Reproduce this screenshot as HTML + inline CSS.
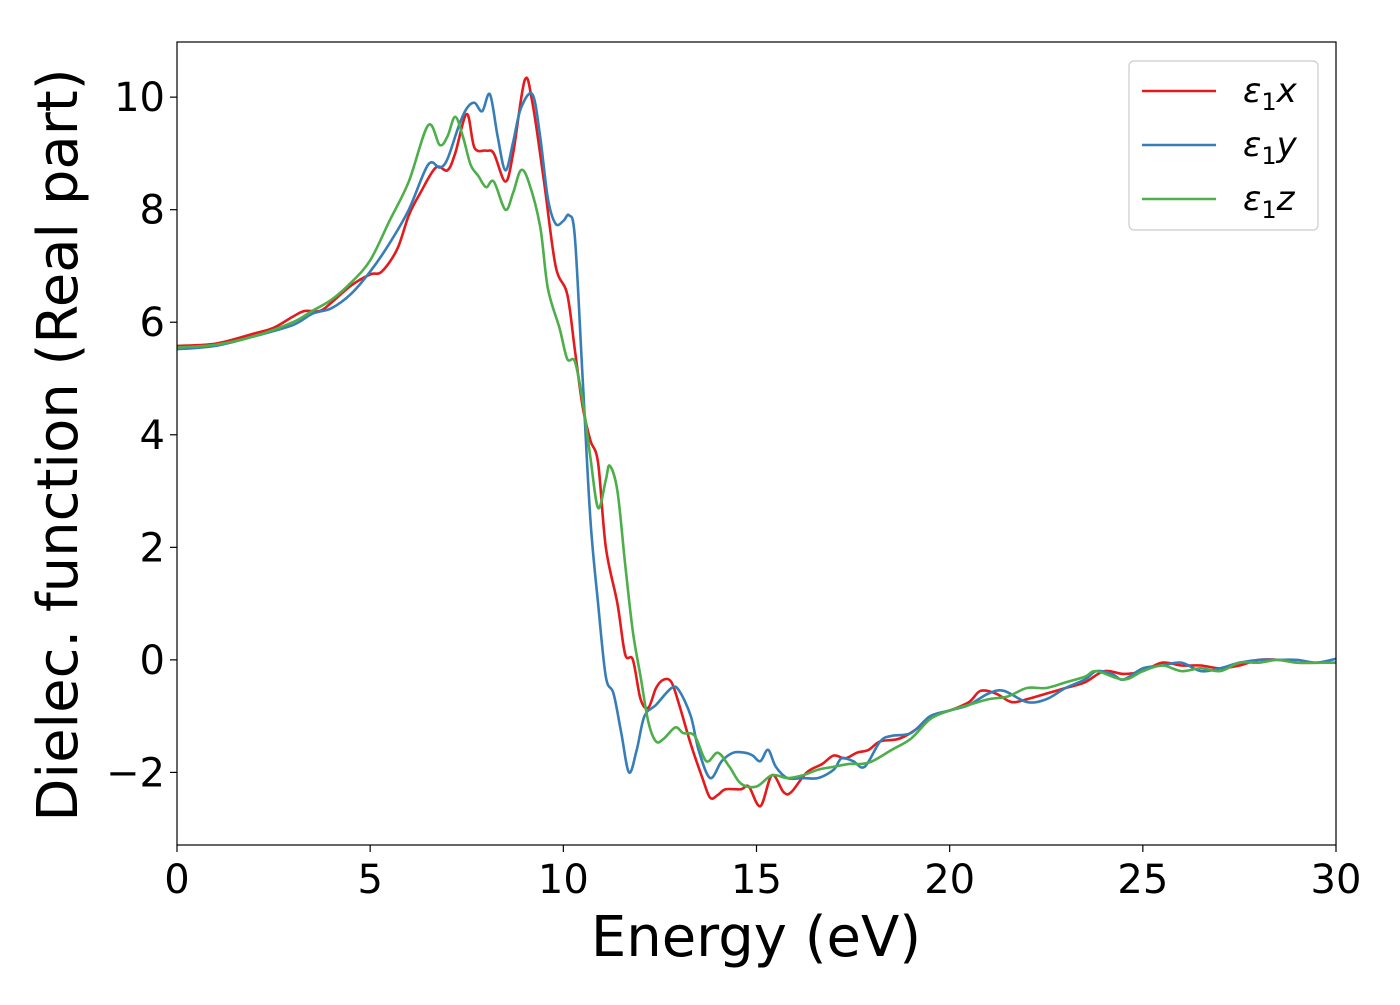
<!DOCTYPE html>
<html><head><meta charset="utf-8"><style>
html,body{margin:0;padding:0;background:#fff;}
svg text{font-family:"DejaVu Sans","Liberation Sans",sans-serif;fill:#000;}
</style></head><body>
<svg id="chart" width="1400" height="1000" xmlns="http://www.w3.org/2000/svg">
<g id="plot"></g>
</svg>
<script>
const xTicks=[0,5,10,15,20,25,30];
const yTicks=[-2,0,2,4,6,8,10];
const yTickLabels=["\u22122","0","2","4","6","8","10"];
const seriesNames=["x","y","z"];
const redX=[0,1,2,2.5,3,3.3,3.7,4,4.5,5,5.3,5.7,6,6.3,6.7,7,7.2,7.5,7.7,8,8.2,8.5,8.7,9.0,9.2,9.5,9.8,10.1,10.3,10.5,10.7,10.9,11.1,11.4,11.6,11.8,12.0,12.2,12.4,12.6,12.8,13.0,13.3,13.6,13.8,14.0,14.2,14.6,14.8,15.1,15.4,15.7,15.9,16.3,16.7,17,17.3,17.6,17.9,18.2,18.7,19.2,19.5,20,20.5,20.8,21.2,21.6,22,22.5,23,23.5,24,24.5,25,25.5,26,26.5,27,27.5,28,28.5,29,29.5,30];
const redY=[5.58,5.62,5.8,5.9,6.1,6.2,6.2,6.35,6.65,6.85,6.9,7.3,7.9,8.3,8.75,8.7,9.0,9.7,9.1,9.05,9.0,8.5,9.0,10.3,9.9,8.5,7.0,6.5,5.5,4.5,3.9,3.5,2.0,1.0,0.1,0.0,-0.7,-0.85,-0.5,-0.35,-0.4,-0.8,-1.5,-2.1,-2.45,-2.4,-2.3,-2.3,-2.25,-2.6,-2.05,-2.35,-2.35,-2.0,-1.85,-1.7,-1.75,-1.65,-1.6,-1.45,-1.4,-1.2,-1.0,-0.9,-0.75,-0.55,-0.6,-0.75,-0.7,-0.6,-0.5,-0.4,-0.2,-0.25,-0.2,-0.05,-0.1,-0.1,-0.15,-0.1,0.0,0.0,-0.05,-0.05,-0.05];
const blueX=[0,1,2,3,3.5,4,4.5,5,5.5,6,6.5,6.8,7,7.3,7.5,7.7,7.9,8.1,8.3,8.5,8.7,8.9,9.2,9.4,9.6,9.8,10.0,10.15,10.3,10.5,10.7,10.9,11.1,11.3,11.5,11.7,11.9,12.1,12.4,12.8,13.0,13.3,13.5,13.8,14.1,14.4,14.7,14.9,15.1,15.3,15.5,15.8,16.2,16.6,17,17.2,17.5,17.8,18.2,18.5,19,19.5,20,20.5,21,21.4,22,22.5,23,23.5,23.8,24.2,24.5,25,25.5,26,26.5,27,27.5,28,28.5,29,29.5,30];
const blueY=[5.52,5.58,5.75,5.95,6.15,6.25,6.5,6.9,7.4,8.0,8.8,8.75,8.9,9.5,9.8,9.9,9.75,10.05,9.3,8.7,9.2,9.8,10.05,9.3,8.2,7.75,7.8,7.9,7.5,5.0,2.5,1.0,-0.3,-0.6,-1.3,-2.0,-1.6,-1.0,-0.8,-0.5,-0.55,-1.0,-1.6,-2.1,-1.8,-1.65,-1.65,-1.7,-1.8,-1.6,-1.9,-2.1,-2.1,-2.1,-1.95,-1.75,-1.8,-1.9,-1.45,-1.35,-1.3,-1.0,-0.9,-0.8,-0.6,-0.55,-0.75,-0.7,-0.5,-0.35,-0.2,-0.25,-0.35,-0.15,-0.1,-0.05,-0.2,-0.15,-0.05,0.0,0.0,0.0,-0.05,0.02];
const greenX=[0,1,2,3,3.5,4,4.5,5,5.5,6,6.5,6.8,7.0,7.2,7.4,7.6,7.8,8.0,8.2,8.5,8.7,8.9,9.1,9.4,9.6,9.9,10.1,10.3,10.5,10.7,10.9,11.1,11.2,11.4,11.6,11.8,12.0,12.2,12.4,12.6,12.9,13.1,13.4,13.7,14.0,14.3,14.6,15.0,15.4,15.8,16.2,16.6,17,17.4,17.7,18,18.5,19,19.5,20,20.5,21,21.5,22,22.5,23,23.5,23.8,24.5,25,25.5,26,26.5,27,27.5,28,28.5,29,30];
const greenY=[5.55,5.6,5.75,6.0,6.2,6.4,6.7,7.1,7.8,8.5,9.5,9.15,9.3,9.65,9.3,8.8,8.6,8.4,8.5,8.0,8.3,8.7,8.5,7.7,6.6,5.9,5.35,5.3,4.6,3.6,2.7,3.2,3.45,3.0,1.7,0.5,-0.3,-1.1,-1.45,-1.4,-1.2,-1.3,-1.35,-1.8,-1.65,-1.9,-2.2,-2.25,-2.05,-2.1,-2.05,-1.95,-1.9,-1.85,-1.85,-1.8,-1.6,-1.4,-1.05,-0.9,-0.8,-0.7,-0.65,-0.5,-0.5,-0.4,-0.3,-0.2,-0.35,-0.2,-0.1,-0.2,-0.15,-0.2,-0.05,-0.05,0.0,-0.05,-0.05];

const L=177,R=1336,T=42,B=845;
const xMin=0,xMax=30,yMin=-3.29,yMax=10.98;
function sx(v){return L+(v-xMin)/(xMax-xMin)*(R-L);}
function sy(v){return B-(v-yMin)/(yMax-yMin)*(B-T);}
const NS="http://www.w3.org/2000/svg";
const g=document.getElementById('plot');
function mk(tag,attrs,parent){const e=document.createElementNS(NS,tag);for(const k in attrs)e.setAttribute(k,attrs[k]);(parent||g).appendChild(e);return e;}
function smooth(xs,ys){
  const p=xs.map((x,i)=>[sx(x),sy(ys[i])]);
  let d="M"+p[0][0].toFixed(2)+","+p[0][1].toFixed(2);
  for(let i=0;i<p.length-1;i++){
    const p0=p[Math.max(0,i-1)],p1=p[i],p2=p[i+1],p3=p[Math.min(p.length-1,i+2)];
    const c1=[p1[0]+(p2[0]-p0[0])/6,p1[1]+(p2[1]-p0[1])/6];
    const c2=[p2[0]-(p3[0]-p1[0])/6,p2[1]-(p3[1]-p1[1])/6];
    d+=" C"+c1[0].toFixed(2)+","+c1[1].toFixed(2)+" "+c2[0].toFixed(2)+","+c2[1].toFixed(2)+" "+p2[0].toFixed(2)+","+p2[1].toFixed(2);
  }
  return d;
}
const clip=mk('clipPath',{id:'cp'});
mk('rect',{x:L,y:T,width:R-L,height:B-T},clip);
const colors=["#e41a1c","#377eb8","#4daf4a"];
const data=[[redX,redY],[blueX,blueY],[greenX,greenY]];
data.forEach((s,i)=>{
  const p=mk('path',{d:smooth(s[0],s[1]),fill:'none',stroke:colors[i],'stroke-width':2.6,'clip-path':'url(#cp)'});
  
  
});
const frame=mk('rect',{x:L,y:T,width:R-L,height:B-T,fill:'none',stroke:'#000','stroke-width':1.2});


xTicks.forEach(v=>{
  mk('line',{x1:sx(v),x2:sx(v),y1:B,y2:B+7,stroke:'#000','stroke-width':1.2});
  const t=mk('text',{x:sx(v),y:893,'font-size':40,'text-anchor':'middle'});
  t.textContent=v;
  
  
});
yTicks.forEach((v,i)=>{
  mk('line',{x1:L-7,x2:L,y1:sy(v),y2:sy(v),stroke:'#000','stroke-width':1.2});
  const t=mk('text',{x:165,y:sy(v)+14,'font-size':40,'text-anchor':'end'});
  t.textContent=yTickLabels[i];
  
  
});
const xt=mk('text',{x:756,y:956,'font-size':56,'text-anchor':'middle'});
xt.textContent='Energy (eV)';


const yt=mk('text',{x:0,y:0,'font-size':56,'text-anchor':'middle',transform:'translate(77,445) rotate(-90)'});
yt.textContent='Dielec. function (Real part)';


const lg=mk('g',{});


mk('rect',{x:1129,y:61,width:189,height:169,rx:5,fill:'#fff','fill-opacity':0.8,stroke:'#ccc','stroke-width':1.2},lg);
seriesNames.forEach((n,i)=>{
  const y=91+i*54;
  mk('line',{x1:1142,x2:1216,y1:y,y2:y,stroke:colors[i],'stroke-width':2.6},lg);
  const t=mk('text',{x:1243,y:y+11,'font-size':34,'font-style':'italic'},lg);
  t.innerHTML='\u03b5<tspan font-style="normal" font-size="24" dy="8">1</tspan><tspan dy="-8">'+n+'</tspan>';
  
  
});
</script>
</body></html>
